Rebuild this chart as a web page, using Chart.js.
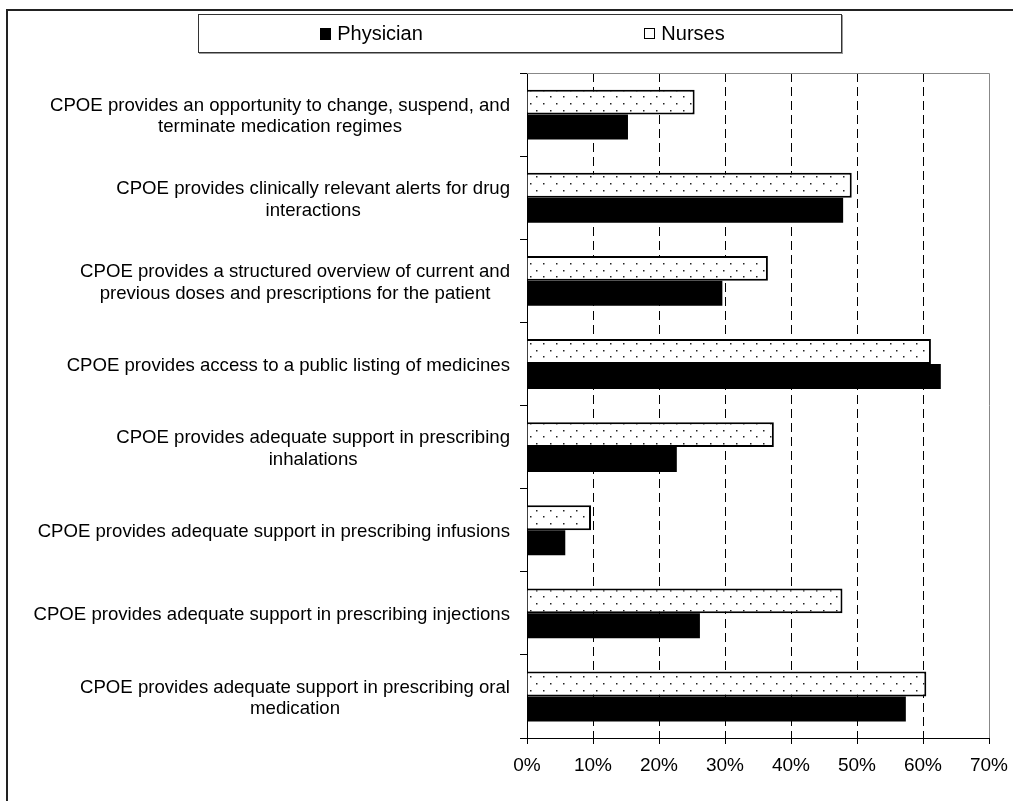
<!DOCTYPE html>
<html>
<head>
<meta charset="utf-8">
<script src="https://cdn.jsdelivr.net/npm/chart.js@4/dist/chart.umd.min.js"></script>
<style>
  body { margin: 0; background: #fff; overflow: hidden; }
  #wrap { position: relative; width: 1013px; height: 801px; }
  #frame { position: absolute; left: 6px; top: 9px; width: 1100px; height: 900px; border: 2px solid #222; }
  #legend { position: absolute; left: 198px; top: 14px; width: 644px; height: 39px; border: 1px solid #333;
            box-shadow: 1px 1px 0 #999; background: #fff; display: flex; padding-left: 16px; box-sizing: border-box;
            font-family: "Liberation Sans", Arial, sans-serif; font-size: 20px; color: #000; }
  #legend .item { flex: 1; display: flex; align-items: center; justify-content: center; }
  #legend .box { width: 11px; height: 12px; margin-right: 6px; box-sizing: border-box; }
  canvas { position: absolute; left: 0; top: 0; }
</style>
</head>
<body>
<div id="wrap">
  <div id="frame"></div>
  <canvas id="chart" width="1013" height="801"></canvas>
  <div id="legend"></div>
</div>
<script>
// statements (one line per array entry)
const categories = [
    ["CPOE provides an opportunity to change, suspend, and", "terminate medication regimes"],
    ["CPOE provides clinically relevant alerts for drug", "interactions"],
    ["CPOE provides a structured overview of current and", "previous doses and prescriptions for the patient"],
    ["CPOE provides access to a public listing of medicines"],
    ["CPOE provides adequate support in prescribing", "inhalations"],
    ["CPOE provides adequate support in prescribing infusions"],
    ["CPOE provides adequate support in prescribing injections"],
    ["CPOE provides adequate support in prescribing oral", "medication"]
];
const physician = [15.3, 47.9, 29.6, 62.7, 22.7, 5.8, 26.2, 57.4];
const nurses = [25.4, 49.2, 36.5, 61.2, 37.4, 9.7, 47.8, 60.5];
const xTicks = [0, 10, 20, 30, 40, 50, 60, 70];

const FONT = '"Liberation Sans", Arial, sans-serif';

// dotted fill for the nurses bars
function dotPattern() {
    const c = document.createElement("canvas");
    c.width = 40; c.height = 40;
    const g = c.getContext("2d");
    g.fillStyle = "#fff";
    g.fillRect(0, 0, 40, 40);
    g.fillStyle = "#222";
    for (let r = 0; r < 6; r++) {
        const y = Math.round(r * 6.667) + 3;
        for (let k = 0; k < 3; k++) {
            const x = Math.round((r % 2 ? 6.667 : 0) + k * 13.333) + 3;
            g.fillRect(x, y, 1.5, 1.5);
        }
    }
    return document.getElementById("chart").getContext("2d").createPattern(c, "repeat");
}

// legend (Physician first, like the original)
const legendItems = [
    { label: "Physician", style: "background:#000;" },
    { label: "Nurses", style: "background:#fff;border:1px solid #000;height:11px;" }
];
document.getElementById("legend").innerHTML = legendItems.map(it =>
    `<div class="item"><span class="box" style="${it.style}"></span>${it.label}</div>`).join("");

// y labels: block right aligned, lines centred on each other
const yLabelPlugin = {
    id: "yLabels",
    afterDraw(chart) {
        const ctx = chart.ctx;
        const y = chart.scales.y;
        ctx.save();
        ctx.font = "18.6px " + FONT;
        ctx.fillStyle = "#000";
        ctx.textAlign = "center";
        ctx.textBaseline = "middle";
        const right = 510, lh = 21.5;
        categories.forEach((lines, i) => {
            const w = Math.max(...lines.map(l => ctx.measureText(l).width));
            const cy = y.getPixelForValue(i) + 2;
            lines.forEach((l, j) => {
                ctx.fillText(l, right - w / 2, cy + (j - (lines.length - 1) / 2) * lh);
            });
        });
        ctx.restore();
    }
};

// grey plot border (top and right)
const plotBorder = {
    id: "plotBorder",
    afterDraw(chart) {
        const { ctx, chartArea: a } = chart;
        ctx.save();
        ctx.strokeStyle = "#888";
        ctx.lineWidth = 1;
        ctx.beginPath();
        ctx.moveTo(a.left, a.top + 0.5);
        ctx.lineTo(a.right + 0.5, a.top + 0.5);
        ctx.lineTo(a.right + 0.5, a.bottom);
        ctx.stroke();
        ctx.restore();
    }
};

new Chart(document.getElementById("chart"), {
    type: "bar",
    data: {
        labels: categories,
        datasets: [
            { label: "Nurses", data: nurses, backgroundColor: dotPattern(), borderColor: "#000", borderWidth: 2 },
            { label: "Physician", data: physician, backgroundColor: "#000", borderWidth: 0 }
        ]
    },
    options: {
        indexAxis: "y",
        responsive: false,
        animation: false,
        datasets: { bar: { categoryPercentage: 0.6, barPercentage: 1.0 } },
        layout: { padding: { top: 73, right: 24, left: 0, bottom: 0 } },
        plugins: { legend: { display: false }, tooltip: { enabled: false } },
        scales: {
            x: {
                min: 0,
                max: 70,
                afterBuildTicks: (s) => { s.ticks = xTicks.map(v => ({ value: v })); },
                afterFit: (s) => { s.height = 63; s.paddingRight = 0; s.paddingLeft = 0; },
                ticks: { callback: v => v + "%", color: "#000", font: { family: FONT, size: 19 }, padding: 10, maxRotation: 0 },
                grid: {
                    color: (c) => (c.tick && (c.tick.value === 0 || c.tick.value === 70)) ? "rgba(0,0,0,0)" : "#000",
                    tickColor: "#000",
                    tickLength: 6,
                    tickBorderDash: [],
                    lineWidth: 1
                },
                border: { color: "#000", width: 1, dash: [9, 5] }
            },
            y: {
                type: "category",
                afterFit: (s) => { s.width = 527; },
                ticks: { display: false },
                grid: { offset: true, drawOnChartArea: false, tickLength: 7, color: "#000" },
                border: { color: "#000", width: 1 }
            }
        }
    },
    plugins: [yLabelPlugin, plotBorder]
});
</script>
</body>
</html>
